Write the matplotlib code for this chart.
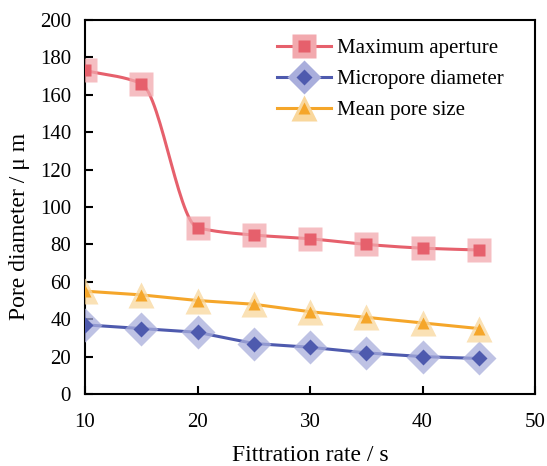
import numpy as np
import matplotlib
matplotlib.use("Agg")
import matplotlib.pyplot as plt
from matplotlib.lines import Line2D

x = [10, 15, 20, 25, 30, 35, 40, 45]
max_aperture = [173, 166, 89, 85, 83, 80, 78, 77]
micropore = [37, 35, 33, 27, 25, 22, 20, 19]
mean_pore = [55, 53, 50, 48, 44, 41, 38, 35]
labels = ["Maximum aperture", "Micropore diameter", "Mean pore size"]

plt.rcParams['font.family'] = ['Liberation Serif', 'DejaVu Serif']

def smooth(xs, ys, n=30):
    xs = np.asarray(xs, float); ys = np.asarray(ys, float)
    h = np.diff(xs); d = np.diff(ys) / h
    m = np.zeros_like(ys)
    m[0] = d[0]; m[-1] = d[-1]
    for i in range(1, len(xs) - 1):
        if d[i-1] * d[i] <= 0:
            m[i] = 0
        else:
            w1 = 2*h[i] + h[i-1]; w2 = h[i] + 2*h[i-1]
            m[i] = (w1 + w2) / (w1/d[i-1] + w2/d[i])
    X = []; Y = []
    for i in range(len(xs) - 1):
        t = np.linspace(0, 1, n, endpoint=False)
        h00 = 2*t**3 - 3*t**2 + 1; h10 = t**3 - 2*t**2 + t
        h01 = -2*t**3 + 3*t**2; h11 = t**3 - t**2
        X.append(xs[i] + t*h[i])
        Y.append(h00*ys[i] + h10*h[i]*m[i] + h01*ys[i+1] + h11*h[i]*m[i+1])
    X.append([xs[-1]]); Y.append([ys[-1]])
    return np.concatenate(X), np.concatenate(Y)

fig = plt.figure(figsize=(5.47, 4.66), dpi=100)
ax = fig.add_axes([85/547, 1-394/466, 450/547, 374/466])

series = [
    (max_aperture, '#E6606C', '#F2A9AE', 's', True, 17, 8),
    (micropore, '#4E5AAE', '#A9AEDC', 'D', False, 17, 8),
    (mean_pore, '#F5A62A', '#F9D79C', '^', False, 19, 9),
]
handles = []
for ys, c, hc, mk, sm, big, small in series:
    if sm:
        sx, sy = smooth(x, ys)
    else:
        sx, sy = x, ys
    ax.plot(sx, sy, color=c, lw=2.2, zorder=2)
    ax.plot(x, ys, ls='none', marker=mk, ms=big, mfc=hc, mec='none', alpha=0.75, zorder=3)
    ax.plot(x, ys, ls='none', marker=mk, ms=small, mfc=c, mec='none', zorder=4)
    h1 = Line2D([], [], color=c, lw=2.2, marker=mk, ms=big, mfc=hc, mec='none')
    h2 = Line2D([], [], ls='none', marker=mk, ms=small, mfc=c, mec='none')
    handles.append((h1, h2))

ax.legend(handles, labels, loc='upper right', bbox_to_anchor=(0.973, 1.0), frameon=False,
          fontsize=15, handlelength=2.6, labelspacing=0.55, handletextpad=0.3)

ax.set_xlim(10, 50)
ax.set_ylim(0, 200)
ax.set_xticks(range(10, 51, 10))
ax.set_yticks(range(0, 201, 20))
ax.tick_params(direction='in', length=6, width=1.5, labelsize=15)
ax.tick_params(axis='x', pad=14)
ax.tick_params(axis='y', pad=10)
ax.tick_params(top=False, right=False)
for s in ax.spines.values():
    s.set_linewidth(1.5)
ax.set_xlabel('Fittration rate / s', fontsize=17, labelpad=9)
ax.set_ylabel('Pore diameter / μ m', fontsize=17)
ax.yaxis.set_label_coords(-0.122, 0.447)

fig.savefig('out.png', dpi=100)
